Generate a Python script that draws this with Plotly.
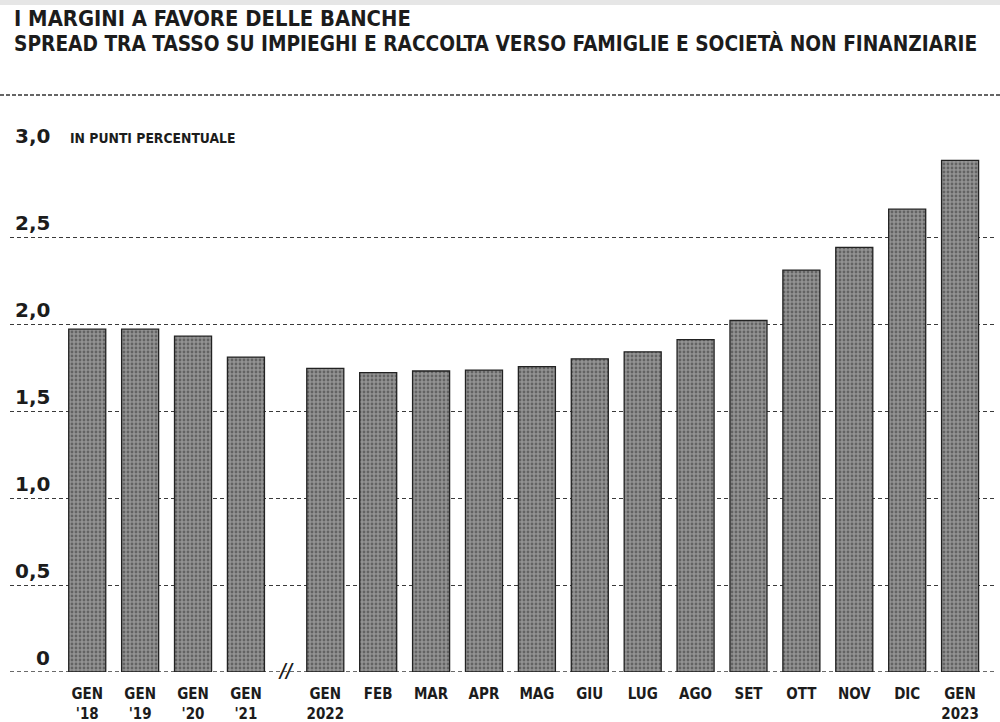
import plotly.graph_objects as go

# ---- data ----
categories = ["GEN<br>'18", "GEN<br>'19", "GEN<br>'20", "GEN<br>'21",
              "GEN<br>2022", "FEB", "MAR", "APR", "MAG", "GIU", "LUG",
              "AGO", "SET", "OTT", "NOV", "DIC", "GEN<br>2023"]
spread = [1.97, 1.97, 1.93, 1.81, 1.745, 1.72, 1.73, 1.735, 1.755, 1.80,
          1.84, 1.91, 2.02, 2.31, 2.44, 2.66, 2.94]
y_ticks = [0, 0.5, 1.0, 1.5, 2.0, 2.5, 3.0]
y_tick_labels = ["0", "0,5", "1,0", "1,5", "2,0", "2,5", "3,0"]

title = "I MARGINI A FAVORE DELLE BANCHE"
subtitle = "SPREAD TRA TASSO SU IMPIEGHI E RACCOLTA VERSO FAMIGLIE E SOCIETÀ NON FINANZIARIE"
unit = "IN PUNTI PERCENTUALE"

# annual points followed by a break, then monthly points
n_annual = 4
break_gap = 0.5
xpos = [i + (break_gap if i >= n_annual else 0) for i in range(len(categories))]

W, H = 1000, 722
L, R, T, B = 10, 5, 150, 50
PW, PH = W - L - R, H - T - B


def px(x):  # page pixel -> paper x
    return (x - L) / PW


def py(y):  # page pixel -> paper y
    return 1 - (y - T) / PH


FONT = "Liberation Sans Narrow, DejaVu Sans Condensed, Arial Narrow, sans-serif"
NUMFONT = "DejaVu Sans, sans-serif"
INK = "#1c1c1c"
GRID = "#3a3a3a"

fig = go.Figure()
fig.add_trace(go.Bar(
    x=xpos, y=spread, width=0.7,
    marker=dict(
        color="#808080",
        line=dict(color="#222222", width=1.3),
        pattern=dict(shape=".", fgcolor="#333333", bgcolor="#939393",
                     size=4, solidity=0.4),
    ),
    hoverinfo="skip",
))

fig.update_layout(
    width=W, height=H,
    margin=dict(l=L, r=R, t=T, b=B, autoexpand=False),
    paper_bgcolor="white", plot_bgcolor="white",
    showlegend=False,
    font=dict(family=FONT, color=INK),
    xaxis=dict(
        range=[-1.46, 17.16],
        tickmode="array", tickvals=xpos,
        ticktext=["<b>" + c.replace("<br>", "</b><br><b>") + "</b>" for c in categories],
        tickfont=dict(size=15, family=FONT, color=INK),
        showgrid=False, zeroline=False, showline=False,
        ticks="", ticklabelstandoff=11, automargin=False,
        fixedrange=True,
    ),
    yaxis=dict(
        range=[0, 3.0],
        tickmode="array", tickvals=y_ticks,
        showticklabels=False, automargin=False,
        showgrid=True, gridcolor=GRID, gridwidth=1.3, griddash="4px,3px",
        zeroline=False, showline=False, ticks="",
        fixedrange=True,
    ),
)

# baseline (dashed, like the gridlines)
fig.add_shape(type="line", xref="paper", yref="y", x0=0, x1=1, y0=0, y1=0,
              layer="below", line=dict(color=GRID, width=1.3, dash="4px,3px"))

# y tick labels sitting on top of the dashed gridlines
for v, lab in zip(y_ticks, y_tick_labels):
    fig.add_annotation(x=px(52), xref="paper", y=v, yref="y",
                       text="<b>" + lab + "</b>", showarrow=False,
                       xanchor="right", yanchor="bottom", yshift=0,
                       font=dict(size=20, family=NUMFONT, color=INK))

fig.add_annotation(x=px(68), xref="paper", y=3.0, yref="y",
                   text="<b>" + unit + "</b>", showarrow=False,
                   xanchor="left", yanchor="bottom", yshift=2,
                   font=dict(size=13.8, family=FONT, color=INK))

# axis break mark
fig.add_annotation(x=(xpos[n_annual - 1] + xpos[n_annual]) / 2, xref="x", y=0, yref="y",
                   text="<b><i>//</i></b>", showarrow=False,
                   xanchor="center", yanchor="middle", yshift=2,
                   font=dict(size=19, family=FONT, color=INK))

# title & subtitle
fig.add_annotation(x=px(12), xref="paper", y=py(18), yref="paper",
                   text="<b>" + title + "</b>", showarrow=False,
                   xanchor="left", yanchor="middle",
                   font=dict(size=21.8, family=FONT, color=INK))
fig.add_annotation(x=px(12), xref="paper", y=py(43), yref="paper",
                   text="<b>" + subtitle + "</b>", showarrow=False,
                   xanchor="left", yanchor="middle",
                   font=dict(size=20.7, family=FONT, color=INK))

# header separator and top band
fig.add_shape(type="line", xref="paper", yref="paper",
              x0=px(0), x1=px(1000), y0=py(95), y1=py(95),
              line=dict(color="#333333", width=1.5, dash="4px,2px"))
fig.add_shape(type="rect", xref="paper", yref="paper",
              x0=px(0), x1=px(1000), y0=py(0), y1=py(5),
              line=dict(width=0), fillcolor="#e6e6e6")

fig.write_html("out.html", config={"displayModeBar": False},
               post_script="document.body.style.margin='0';")
